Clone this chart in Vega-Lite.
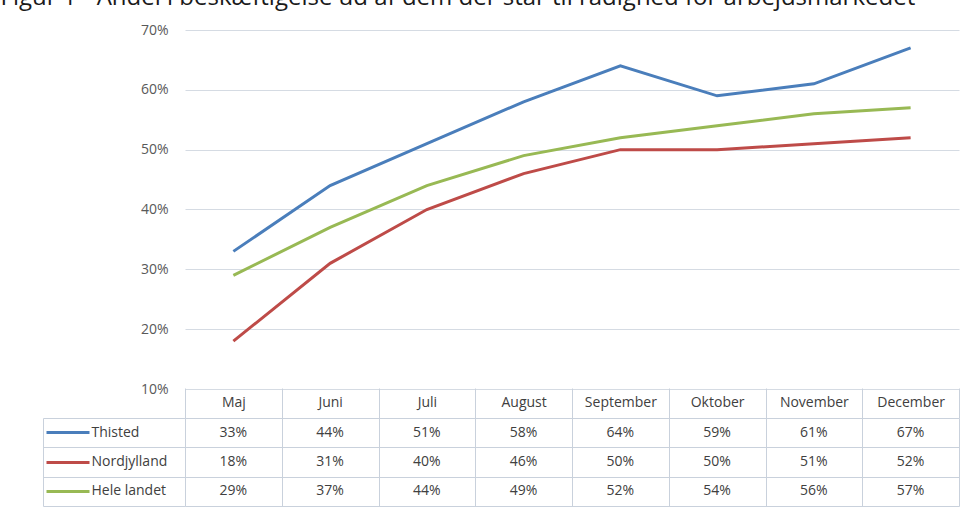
{
  "$schema": "https://vega.github.io/schema/vega-lite/v6.json",
  "padding": {"left": 0, "top": -14, "right": 0, "bottom": 0},
  "title": {
    "text": "Figur 1 - Andel i beskæftigelse ud af dem der står til rådighed for arbejdsmarkedet",
    "anchor": "start",
    "frame": "bounds",
    "dx": -42,
    "offset": 13,
    "fontSize": 24,
    "fontWeight": "normal",
    "font": "Open Sans",
    "color": "#1a1a1a"
  },
  "bounds": "flush",
  "spacing": 29,
  "datasets": {
    "d": [
      {"m": 1, "month": "Maj", "series": "Thisted", "value": 0.33},
      {"m": 2, "month": "Juni", "series": "Thisted", "value": 0.44},
      {"m": 3, "month": "Juli", "series": "Thisted", "value": 0.51},
      {"m": 4, "month": "August", "series": "Thisted", "value": 0.58},
      {"m": 5, "month": "September", "series": "Thisted", "value": 0.64},
      {"m": 6, "month": "Oktober", "series": "Thisted", "value": 0.59},
      {"m": 7, "month": "November", "series": "Thisted", "value": 0.61},
      {"m": 8, "month": "December", "series": "Thisted", "value": 0.67},
      {"m": 1, "month": "Maj", "series": "Nordjylland", "value": 0.18},
      {"m": 2, "month": "Juni", "series": "Nordjylland", "value": 0.31},
      {"m": 3, "month": "Juli", "series": "Nordjylland", "value": 0.40},
      {"m": 4, "month": "August", "series": "Nordjylland", "value": 0.46},
      {"m": 5, "month": "September", "series": "Nordjylland", "value": 0.50},
      {"m": 6, "month": "Oktober", "series": "Nordjylland", "value": 0.50},
      {"m": 7, "month": "November", "series": "Nordjylland", "value": 0.51},
      {"m": 8, "month": "December", "series": "Nordjylland", "value": 0.52},
      {"m": 1, "month": "Maj", "series": "Hele landet", "value": 0.29},
      {"m": 2, "month": "Juni", "series": "Hele landet", "value": 0.37},
      {"m": 3, "month": "Juli", "series": "Hele landet", "value": 0.44},
      {"m": 4, "month": "August", "series": "Hele landet", "value": 0.49},
      {"m": 5, "month": "September", "series": "Hele landet", "value": 0.52},
      {"m": 6, "month": "Oktober", "series": "Hele landet", "value": 0.54},
      {"m": 7, "month": "November", "series": "Hele landet", "value": 0.56},
      {"m": 8, "month": "December", "series": "Hele landet", "value": 0.57}
    ]
  },
  "vconcat": [
    {
      "width": 774,
      "height": 359,
      "data": {"name": "d"},
      "mark": {"type": "line", "strokeWidth": 3},
      "encoding": {
        "x": {
          "field": "month", "type": "ordinal",
          "sort": ["Maj", "Juni", "Juli", "August", "September", "Oktober", "November", "December"],
          "scale": {"type": "point", "padding": 0.5},
          "axis": null
        },
        "y": {
          "field": "value", "type": "quantitative",
          "scale": {"domain": [0.1, 0.7], "nice": false, "zero": false},
          "axis": {
            "title": null, "format": ".0%",
            "values": [0.1, 0.2, 0.3, 0.4, 0.5, 0.6, 0.7],
            "grid": true, "gridColor": "#d5dbe3", "gridWidth": 1,
            "domain": false, "ticks": false,
            "labelPadding": 17, "labelFontSize": 14, "labelColor": "#595959", "labelFont": "Open Sans"
          }
        },
        "color": {
          "field": "series", "type": "nominal",
          "scale": {"domain": ["Thisted", "Nordjylland", "Hele landet"], "range": ["#4a7ebb", "#be4b48", "#98b954"]},
          "legend": null
        },
        "order": {"field": "m", "type": "quantitative"}
      }
    },
    {
      "width": 774,
      "height": 88,
      "data": {"name": "d"},
      "layer": [
        {
          "mark": {"type": "text", "fontSize": 14, "font": "Open Sans", "color": "#404040"},
          "encoding": {
            "x": {
              "field": "month", "type": "ordinal",
              "sort": ["Maj", "Juni", "Juli", "August", "September", "Oktober", "November", "December"],
              "scale": {"type": "band", "paddingInner": 0, "paddingOuter": 0},
              "axis": {
                "orient": "top", "title": null, "tickBand": "extent",
                "tickSize": 30, "tickColor": "#c9d1dc", "grid": true, "gridColor": "#c9d1dc",
                "domain": false, "labelAngle": 0, "labelPadding": -21,
                "labelFontSize": 14, "labelFont": "Open Sans", "labelColor": "#404040"
              }
            },
            "y": {
              "field": "series", "type": "nominal",
              "sort": ["Thisted", "Nordjylland", "Hele landet"],
              "scale": {"type": "band", "paddingInner": 0, "paddingOuter": 0},
              "axis": {
                "orient": "left", "title": null, "tickBand": "extent",
                "offset": 142, "tickSize": -142, "tickColor": "#c9d1dc",
                "grid": true, "gridColor": "#c9d1dc",
                "domain": true, "domainColor": "#c9d1dc", "labels": false
              }
            },
            "text": {"field": "value", "type": "quantitative", "format": ".0%"}
          }
        },
        {
          "mark": {"type": "text", "opacity": 0},
          "encoding": {
            "y": {
              "field": "series", "type": "nominal",
              "sort": ["Thisted", "Nordjylland", "Hele landet"],
              "scale": {"type": "band", "paddingInner": 0, "paddingOuter": 0},
              "axis": {
                "orient": "left", "title": null,
                "offset": 96, "tickSize": 43, "tickWidth": 3,
                "tickColor": {
                  "condition": [
                    {"test": "datum.value === 'Thisted'", "value": "#4a7ebb"},
                    {"test": "datum.value === 'Nordjylland'", "value": "#be4b48"}
                  ],
                  "value": "#98b954"
                },
                "grid": false, "domain": false,
                "labelAlign": "left", "labelPadding": -45,
                "labelFontSize": 14, "labelFont": "Open Sans", "labelColor": "#404040"
              }
            }
          }
        }
      ],
      "resolve": {"axis": {"y": "independent"}}
    }
  ],
  "config": {
    "view": {"stroke": null},
    "font": "Open Sans"
  }
}
